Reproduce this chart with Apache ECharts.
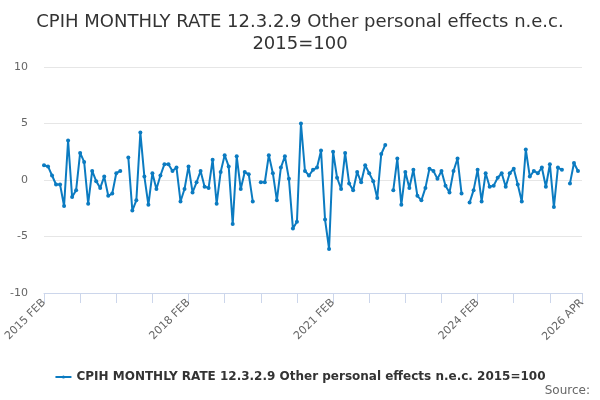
<!DOCTYPE html>
<html>
<head>
<meta charset="utf-8">
<script src="https://cdn.jsdelivr.net/npm/echarts@6/dist/echarts.min.js"></script>
<style>
  html, body { margin: 0; padding: 0; background: #fff; }
  #chart { width: 600px; height: 400px; }
</style>
</head>
<body>
<div id="chart"></div>
<script>
// monthly rate, 2015 FEB .. 2026 APR (null = no value published)
var seriesName = 'CPIH MONTHLY RATE 12.3.2.9 Other personal effects n.e.c. 2015=100';
var monthNames = ['JAN','FEB','MAR','APR','MAY','JUN','JUL','AUG','SEP','OCT','NOV','DEC'];
var startYear = 2015, startMonth = 1, monthCount = 135;
var yTicks = [-10, -5, 0, 5, 10];
var rates = [
  1.3, 1.2, 0.4, -0.4, -0.4, -2.3, 3.5, -1.5, -0.9, 2.4,
  1.6, -2.1, 0.8, -0.1, -0.7, 0.3, -1.4, -1.2, 0.6, 0.8,
  null, 2.0, -2.7, -1.8, 4.2, 0.3, -2.2, 0.6, -0.8, 0.4,
  1.4, 1.4, 0.8, 1.1, -1.9, -0.8, 1.2, -1.1, -0.2, 0.8,
  -0.6, -0.7, 1.8, -2.1, 0.7, 2.2, 1.2, -3.9, 2.1, -0.8,
  0.7, 0.5, -1.9, null, -0.2, -0.2, 2.2, 0.6, -1.8, 1.1,
  2.1, 0.1, -4.3, -3.7, 5.0, 0.8, 0.4, 0.9, 1.1, 2.6,
  -3.5, -6.1, 2.5, 0.2, -0.8, 2.4, -0.3, -0.9, 0.7, -0.2,
  1.3, 0.6, -0.1, -1.6, 2.3, 3.1, null, -0.9, 1.9, -2.2,
  0.7, -0.7, 0.9, -1.4, -1.8, -0.7, 1.0, 0.8, 0.1, 0.8,
  -0.5, -1.1, 0.8, 1.9, -1.2, null, -2.0, -0.9, 0.9, -1.9,
  0.6, -0.6, -0.5, 0.2, 0.6, -0.6, 0.6, 1.0, -0.4, -1.9,
  2.7, 0.3, 0.8, 0.6, 1.1, -0.6, 1.4, -2.4, 1.1, 0.9,
  null, -0.3, 1.5, 0.8, null
];

var months = [];
for (var i = 0; i < monthCount; i++) {
  var m = startMonth + i;
  months.push((startYear + Math.floor(m / 12)) + ' ' + monthNames[m % 12]);
}
var lastIdx = months.length - 1;

var myChart = echarts.init(document.getElementById('chart'));
var option = {
  animation: false,
  textStyle: { fontFamily: 'DejaVu Sans' },
  title: {
    text: 'CPIH MONTHLY RATE 12.3.2.9 Other personal effects n.e.c.\n2015=100',
    left: 'center',
    top: 6,
    textStyle: { fontSize: 18, fontWeight: 'normal', color: '#333333', lineHeight: 22 }
  },
  legend: {
    data: [seriesName],
    left: 'center',
    top: 366,
    itemWidth: 16,
    itemHeight: 4,
    itemGap: 5,
    textStyle: { fontSize: 12, fontWeight: 'bold', color: '#333333' }
  },
  graphic: [{
    type: 'text',
    right: 10,
    bottom: 3,
    style: { text: 'Source:', fontSize: 12, fill: '#666666', fontFamily: 'DejaVu Sans' }
  }],
  grid: { left: 44, right: 18, top: 67, bottom: 107, containLabel: false },
  xAxis: {
    type: 'category',
    data: months,
    boundaryGap: false,
    axisLine: { onZero: false, lineStyle: { color: '#ccd6eb', width: 1 } },
    axisTick: {
      show: true,
      length: 10,
      lineStyle: { color: '#ccd6eb' },
      interval: function (index) { return index % 9 === 0 || index === lastIdx; }
    },
    axisLabel: {
      rotate: 45,
      margin: 8,
      fontSize: 11,
      color: '#666666',
      interval: function (index) { return index % 36 === 0 || index === lastIdx; }
    },
    splitLine: { show: false }
  },
  yAxis: {
    type: 'value',
    min: yTicks[0],
    max: yTicks[yTicks.length - 1],
    interval: 5,
    axisLine: { show: false },
    axisTick: { show: false },
    axisLabel: { fontSize: 11, color: '#666666', margin: 16 },
    splitLine: { lineStyle: { color: '#e6e6e6' } }
  },
  series: [{
    name: seriesName,
    type: 'line',
    data: rates,
    connectNulls: false,
    symbol: 'circle',
    symbolSize: 4,
    showSymbol: true,
    showAllSymbol: true,
    itemStyle: { color: '#0b7bc1' },
    lineStyle: { color: '#0b7bc1', width: 2 }
  }]
};
myChart.setOption(option);
</script>
</body>
</html>
